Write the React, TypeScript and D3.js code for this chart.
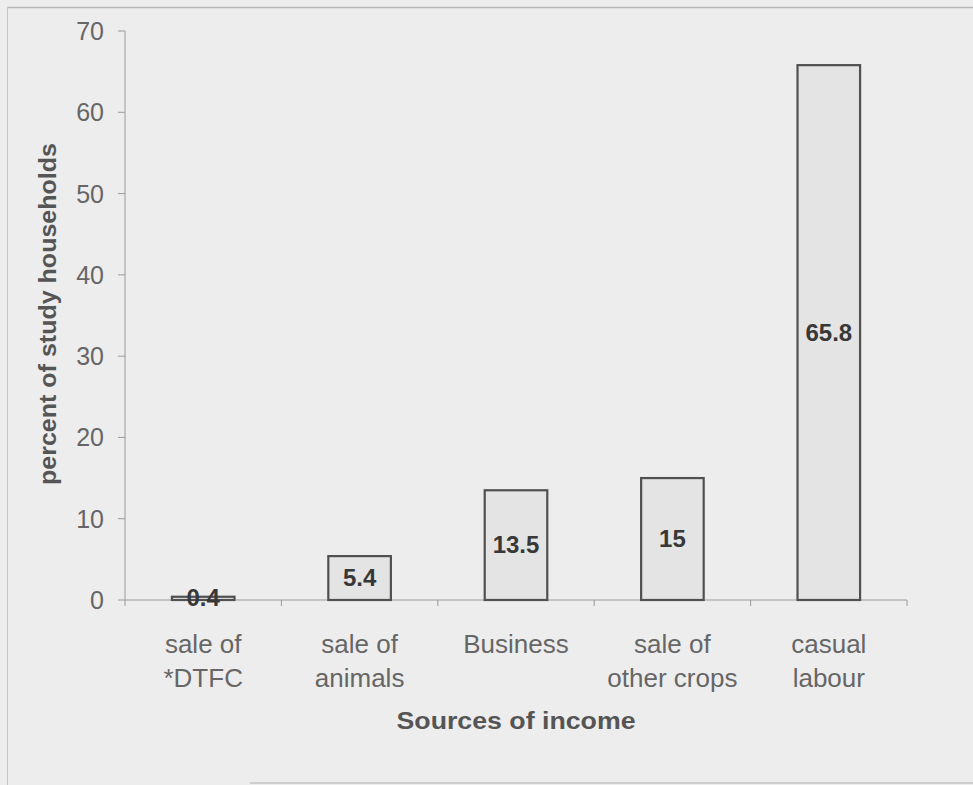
import React from "react";
import * as d3 from "d3";

// Income sources and share of study households (%)
const categories: string[][] = [
  ["sale of", "*DTFC"],
  ["sale of", "animals"],
  ["Business"],
  ["sale of", "other crops"],
  ["casual", "labour"],
];
const values: number[] = [0.4, 5.4, 13.5, 15, 65.8];
const yTicks: number[] = [0, 10, 20, 30, 40, 50, 60, 70];

const W = 973;
const H = 785;
const FONT = "'Liberation Sans', Arial, sans-serif";

export default function App() {
  const x0 = 125;
  const x1 = 907;
  const yBase = 600;
  const yTop = 31;

  const keys = categories.map((_, i) => String(i));
  const x = d3.scaleBand<string>().domain(keys).range([x0, x1]).padding(0);
  const y = d3.scaleLinear().domain([0, 70]).range([yBase, yTop]);
  const barW = x.step() * 0.4;

  return (
    <svg
      width={W}
      height={H}
      style={{ position: "absolute", left: 0, top: 0, display: "block" }}
      fontFamily={FONT}
    >
      <rect x={0} y={0} width={W} height={H} fill="#ededed" />
      {/* page frame */}
      <line x1={7.5} y1={7.5} x2={W} y2={7.5} stroke="#b8b8b8" strokeWidth={1.5} />
      <line x1={7.5} y1={7.5} x2={7.5} y2={H} stroke="#c4c4c4" strokeWidth={1} />
      <line x1={250} y1={783} x2={W} y2={783} stroke="#c4c4c4" strokeWidth={1.5} />

      {/* y axis */}
      <line x1={x0} y1={yTop} x2={x0} y2={yBase} stroke="#9a9a9a" strokeWidth={1} />
      {yTicks.map((t) => (
        <g key={t}>
          <line x1={x0 - 7} y1={y(t)} x2={x0} y2={y(t)} stroke="#9a9a9a" strokeWidth={1} />
          <text
            x={104}
            y={y(t) + 9}
            textAnchor="end"
            fontSize={25}
            fill="#666"
          >
            {t}
          </text>
        </g>
      ))}

      {/* x axis */}
      <line x1={x0} y1={yBase} x2={x1} y2={yBase} stroke="#9a9a9a" strokeWidth={1} />
      {d3.range(categories.length + 1).map((i) => {
        const px = x0 + i * x.step();
        return (
          <line key={i} x1={px} y1={yBase} x2={px} y2={yBase + 6} stroke="#9a9a9a" strokeWidth={1} />
        );
      })}

      {/* bars */}
      {values.map((v, i) => {
        const cx = (x(String(i)) as number) + x.step() / 2;
        const top = y(v);
        return (
          <g key={i}>
            <rect
              x={cx - barW / 2}
              y={top}
              width={barW}
              height={yBase - top}
              fill="#e4e4e4"
              stroke="#505050"
              strokeWidth={2.2}
            />
            <text
              x={cx}
              y={(top + yBase) / 2 + 8}
              textAnchor="middle"
              fontSize={24}
              fontWeight="bold"
              fill="#383838"
            >
              {v}
            </text>
          </g>
        );
      })}

      {/* category labels */}
      {categories.map((lines, i) => {
        const cx = (x(String(i)) as number) + x.step() / 2;
        return (
          <text key={i} x={cx} y={653} textAnchor="middle" fontSize={26} fill="#666">
            {lines.map((l, j) => (
              <tspan key={j} x={cx} dy={j === 0 ? 0 : 34}>
                {l}
              </tspan>
            ))}
          </text>
        );
      })}

      {/* axis titles */}
      <text
        x={(x0 + x1) / 2}
        y={729}
        textAnchor="middle"
        fontSize={23}
        fontWeight="bold"
        fill="#555"
        textLength={239}
        lengthAdjust="spacingAndGlyphs"
      >
        Sources of income
      </text>
      <text
        transform="translate(56, 314) rotate(-90)"
        textAnchor="middle"
        fontSize={23}
        fontWeight="bold"
        fill="#555"
        textLength={342}
        lengthAdjust="spacingAndGlyphs"
      >
        percent of study households
      </text>
    </svg>
  );
}
